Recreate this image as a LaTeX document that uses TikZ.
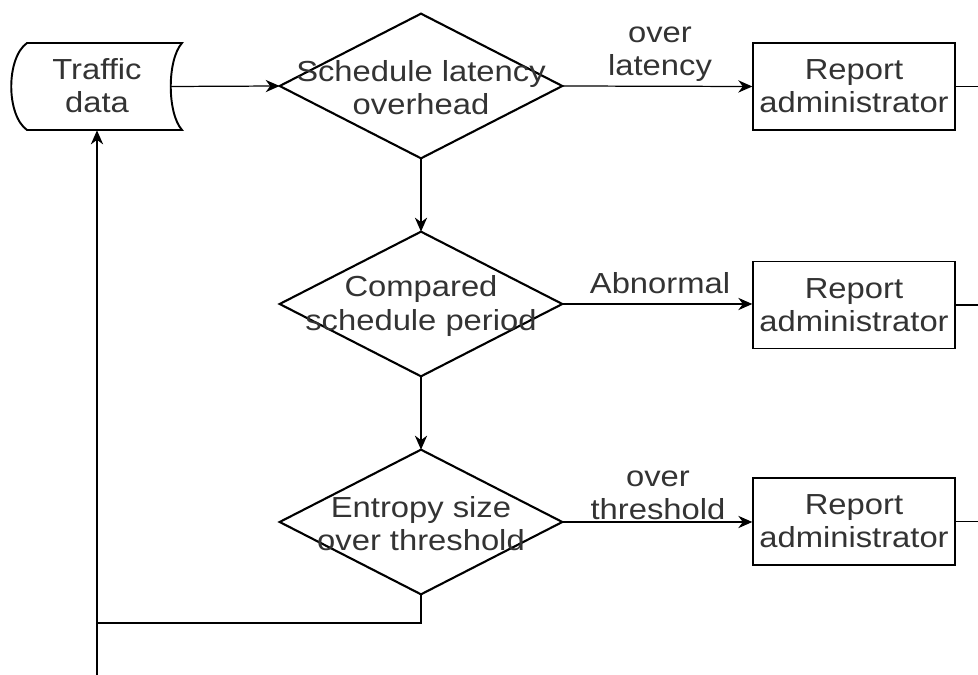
\documentclass[tikz,border=0pt]{standalone}
\usepackage{fontspec}
\setmainfont{Liberation Sans}[FakeStretch=1.13]
\usetikzlibrary{arrows.meta}
\definecolor{txt}{HTML}{333333}
\tikzset{
  lbl/.style={font=\fontsize{16.5}{18.8}\selectfont, text=txt, align=center, inner sep=0pt},
  dec/.style={draw=none, minimum width=5.64cm, minimum height=2.88cm, inner sep=0pt},
  rep/.style={draw, line width=0.8pt, minimum width=4.04cm, minimum height=1.74cm, inner sep=0pt, text=txt, font=\fontsize{16.5}{18.8}\selectfont, align=center},
  dia/.style={line width=1.2pt, line join=miter},
  con/.style={line width=0.7pt},
  arr/.style={con, -{Stealth[length=8pt, width=7pt]}}
}
\begin{document}
\begin{tikzpicture}[x=0.02cm, y=-0.02cm]
\useasboundingbox (0,0) rectangle (978,675);
% traffic data (stored data shape)
\node[draw=none, minimum width=3.4cm, minimum height=1.74cm, inner sep=0pt] (traffic) at (97,86.5) {};
\draw[line width=1.1pt] (27,43) -- (182,43) .. controls (167,60) and (167,113) .. (182,130) -- (27,130) .. controls (6,115) and (6,58) .. (27,43) -- cycle;
\coordinate (tin) at (170,86.5);
\node[lbl] (ttext) at (97,86) {Traffic\\data};
% diamonds
\node[dec] (d1) at (421,86) {};
\node[dec] (d2) at (421,304) {};
\node[dec] (d3) at (421,522) {};
\foreach \d in {d1,d2,d3}{
  \draw[dia] (\d.north) -- (\d.east) -- (\d.south) -- (\d.west) -- cycle;
}
\node[lbl] (t1) at (421,88) {Schedule latency\\overhead};
\node[lbl] (t2) at (421,306) {Compared\\schedule period};
\node[lbl] (t3) at (421,524) {Entropy size\\over threshold};
% report boxes
\node[rep] (r1) at (854,86.5) {Report\\administrator};
\node[rep] (r2) at (854,305) {Report\\administrator};
\node[rep] (r3) at (854,521.5) {Report\\administrator};
% edge coordinates
\coordinate (e1) at (978,86.5);
\coordinate (e2) at (978,305);
\coordinate (e3) at (978,521.5);
\coordinate (fb) at (421,623);
\coordinate (fbl) at (97,623);
\coordinate (bot) at (97,675);
% connectors
\draw[arr] (tin) -- (d1.west);
\draw[arr] (d1.east) -- (r1.west);
\draw[arr] (d2.east) -- (r2.west |- d2.east);
\draw[arr] (d3.east) -- (r3.west |- d3.east);
\draw[arr] (d1.south) -- (d2.north);
\draw[arr] (d2.south) -- (d3.north);
\draw[con] (r1.east) -- (e1);
\draw[con] (r2.east) -- (e2);
\draw[con] (r3.east) -- (e3);
\draw[con] (d3.south) -- (fb) -- (fbl);
\draw[arr] (bot) -- (traffic.south);
% labels
\node[lbl] (l1) at (660,54) {over\\latency};
\node[lbl, anchor=base] (l2) at (660,294) {Abnormal};
\node[lbl] (l3) at (658,495) {over\\threshold};
\end{tikzpicture}
\end{document}
